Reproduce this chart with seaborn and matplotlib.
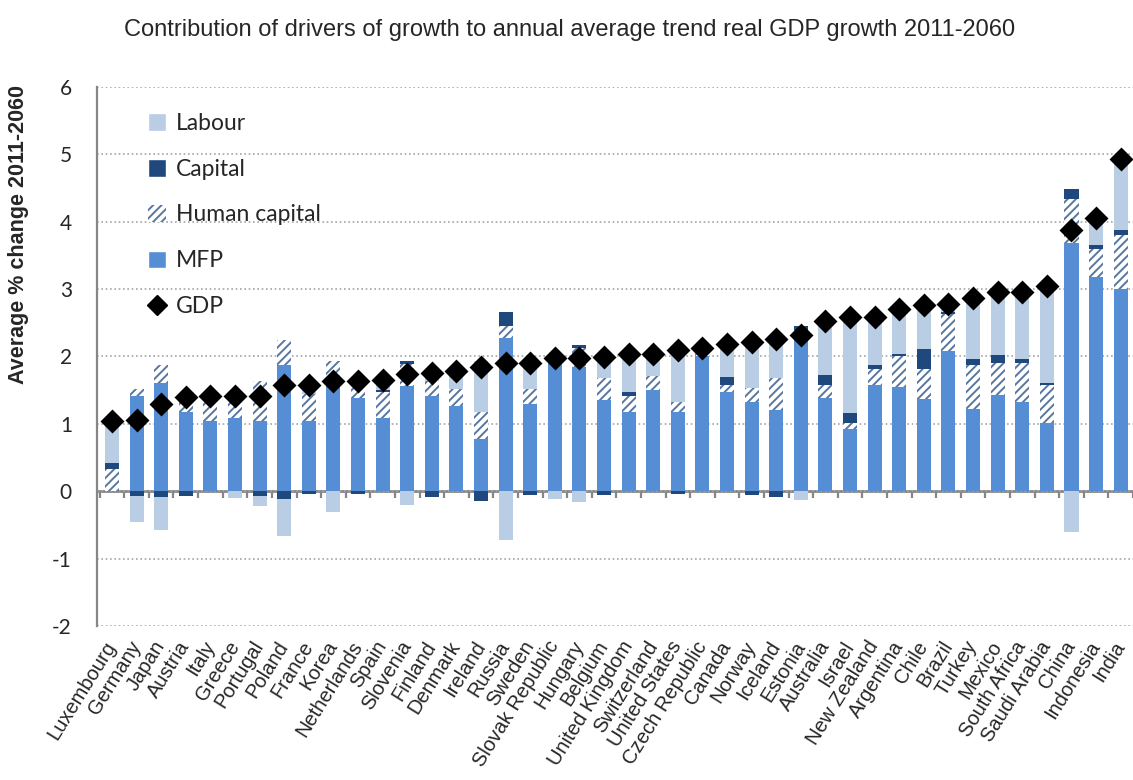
import numpy as np
import pandas as pd
import seaborn as sns
import matplotlib.pyplot as plt
from matplotlib.patches import Patch
from matplotlib.lines import Line2D

countries = ["Luxembourg", "Germany", "Japan", "Austria", "Italy", "Greece", "Portugal",
             "Poland", "France", "Korea", "Netherlands", "Spain", "Slovenia", "Finland",
             "Denmark", "Ireland", "Russia", "Sweden", "Slovak Republic", "Hungary",
             "Belgium", "United Kingdom", "Switzerland", "United States", "Czech Republic",
             "Canada", "Norway", "Iceland", "Estonia", "Australia", "Israel", "New Zealand",
             "Argentina", "Chile", "Brazil", "Turkey", "Mexico", "South Africa",
             "Saudi Arabia", "China", "Indonesia", "India"]

mfp = [0.00, 1.41, 1.61, 1.18, 1.05, 1.08, 1.05, 1.88, 1.05, 1.59, 1.38, 1.08, 1.56, 1.41,
       1.26, 0.78, 2.27, 1.29, 2.00, 1.85, 1.35, 1.17, 1.50, 1.17, 2.00, 1.47, 1.32, 1.20,
       2.40, 1.38, 0.93, 1.58, 1.55, 1.37, 2.08, 1.22, 1.43, 1.32, 1.01, 3.69, 3.18, 3.00]
human_capital = [0.33, 0.11, 0.27, 0.20, 0.35, 0.41, 0.59, 0.36, 0.39, 0.35, 0.16, 0.39,
                 0.33, 0.23, 0.26, 0.39, 0.18, 0.23, 0.05, 0.28, 0.33, 0.24, 0.21, 0.15,
                 0.03, 0.11, 0.21, 0.48, 0.00, 0.20, 0.08, 0.24, 0.45, 0.44, 0.55, 0.66,
                 0.48, 0.59, 0.57, 0.65, 0.42, 0.81]
capital = [0.09, -0.07, -0.08, -0.07, 0.00, 0.00, -0.07, -0.11, -0.04, 0.00, -0.04, 0.03,
           0.04, -0.08, 0.00, -0.14, 0.21, -0.05, 0.00, 0.04, -0.05, 0.06, 0.00, -0.04,
           0.00, 0.12, -0.05, -0.08, 0.05, 0.15, 0.15, 0.06, 0.03, 0.30, 0.03, 0.08,
           0.11, 0.05, 0.03, 0.15, 0.05, 0.06]
labour = [0.57, -0.39, -0.50, 0.05, 0.03, -0.10, -0.15, -0.56, 0.08, -0.31, 0.06, 0.10,
          -0.20, 0.06, 0.25, 0.77, -0.73, 0.35, -0.12, -0.16, 0.29, 0.52, 0.28, 0.72,
          0.08, 0.44, 0.64, 0.53, -0.13, 0.78, 1.39, 0.70, 0.66, 0.63, 0.12, 0.89,
          0.91, 0.96, 1.38, -0.61, 0.34, 1.01]
gdp = [1.05, 1.06, 1.30, 1.40, 1.41, 1.42, 1.42, 1.57, 1.58, 1.63, 1.64, 1.65, 1.74, 1.75,
       1.79, 1.84, 1.90, 1.91, 1.98, 1.98, 1.99, 2.03, 2.03, 2.09, 2.12, 2.18, 2.22, 2.26,
       2.32, 2.53, 2.58, 2.59, 2.70, 2.76, 2.78, 2.87, 2.95, 2.95, 3.04, 3.87, 4.06, 4.93]

MFP_COLOR = "#558ed5"
LABOUR_COLOR = "#b9cde5"
CAPITAL_COLOR = "#1f497d"
HATCH_COLOR = "#5877a0"

df = pd.DataFrame({"country": countries, "MFP": mfp, "Human capital": human_capital,
                   "Capital": capital, "Labour": labour, "GDP": gdp})

sns.set_style("white")
plt.rcParams['font.family'] = ['Liberation Sans', 'DejaVu Sans']
plt.rcParams['hatch.linewidth'] = 1.4
plt.rcParams['axes.unicode_minus'] = False

fig = plt.figure(figsize=(11.33, 7.8), dpi=100)
ax = fig.add_axes([0.0856, 0.1974, 0.9144, 0.6911])

# stack order bottom -> top: MFP, human capital, capital, labour
layers = [
    ("MFP", dict(color=MFP_COLOR)),
    ("Human capital", dict(color="white", edgecolor=HATCH_COLOR, hatch="////", linewidth=0)),
    ("Capital", dict(color=CAPITAL_COLOR)),
    ("Labour", dict(color=LABOUR_COLOR)),
]
n = len(countries)
pos_base = np.zeros(n)
neg_base = np.zeros(n)
for name, style in layers:
    vals = df[name].to_numpy()
    bottom = np.where(vals >= 0, pos_base, neg_base)
    kw = dict(linewidth=0)
    kw.update(style)
    sns.barplot(x=df["country"], y=vals, bottom=bottom, width=0.57, saturation=1,
                errorbar=None, ax=ax, zorder=2, **kw)
    pos_base = pos_base + np.clip(vals, 0, None)
    neg_base = neg_base + np.clip(vals, None, 0)

sns.pointplot(x=df["country"], y=df["GDP"], color="black", marker="D", linestyle="none",
              markersize=10, errorbar=None, ax=ax, zorder=4)

ax.set_xlim(-0.61, n - 0.5)
ax.set_ylim(-2, 6)
ax.set_yticks(range(-2, 7))
ax.set_xlabel("")
ax.set_ylabel("")
ax.yaxis.grid(True, linestyle=(0, (1, 1.6)), color="#a6a6a6", linewidth=1.2, zorder=0)
ax.xaxis.grid(False)
ax.set_axisbelow(True)

for side in ["top", "right", "bottom"]:
    ax.spines[side].set_visible(False)
ax.spines["left"].set_color("#868686")
ax.spines["left"].set_linewidth(1.6)
ax.tick_params(axis="y", length=6, width=1.6, color="#868686", direction="out",
               labelsize=15, pad=12)
for lbl in ax.get_yticklabels():
    lbl.set_family(["Lato", "DejaVu Sans"])

ax.tick_params(axis="x", length=0, pad=12)
ax.set_xticks(range(n))
ax.set_xticklabels(countries, rotation=58, ha="right", va="center",
                   rotation_mode="anchor", fontsize=14.5)

# category axis crossing at zero with tick marks between the bars
zero_axis = ax.secondary_xaxis(0, transform=ax.transData)
zero_axis.set_xticks(np.arange(n + 1) - 0.5)
zero_axis.tick_params(length=5, width=1.6, color="#868686", labelbottom=False)
zero_axis.spines["bottom"].set_color("#868686")
zero_axis.spines["bottom"].set_linewidth(2)

handles = [
    Patch(facecolor=LABOUR_COLOR, label="Labour"),
    Patch(facecolor=CAPITAL_COLOR, label="Capital"),
    Patch(facecolor="white", edgecolor=HATCH_COLOR, hatch="////", linewidth=0,
          label="Human capital"),
    Patch(facecolor=MFP_COLOR, label="MFP"),
    Line2D([], [], color="black", marker="D", linestyle="none", markersize=10, label="GDP"),
]
leg = ax.legend(handles=handles, loc="upper left", bbox_to_anchor=(0.029, 0.99),
                frameon=False, labelspacing=1.08, handlelength=0.8, handleheight=0.8,
                handletextpad=0.45, prop={"family": ["Lato", "DejaVu Sans"], "size": 16.5})

fig.text(0.503, 0.962, "Contribution of drivers of growth to annual average trend real GDP growth 2011-2060",
         ha="center", va="center", fontsize=17)
fig.text(0.016, 0.70, "Average % change 2011-2060", rotation=90, ha="center", va="center",
         fontsize=15.5, fontweight="bold")

fig.savefig("out.png", dpi=100)
